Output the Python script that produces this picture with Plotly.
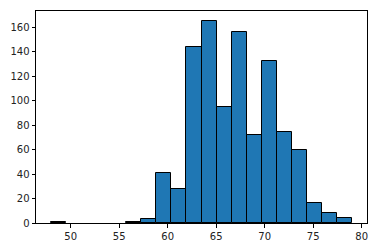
import plotly.graph_objects as go

bin_start = 47.97
bin_width = 1.5515
counts = [1, 0, 0, 0, 0, 1, 3, 41, 28, 144, 165, 95, 156, 72, 132, 74, 60, 16, 8, 4]
x_ticks = [50, 55, 60, 65, 70, 75, 80]
y_ticks = [0, 20, 40, 60, 80, 100, 120, 140, 160]

centers = [bin_start + bin_width * (i + 0.5) for i in range(len(counts))]
data_min = bin_start
data_max = bin_start + bin_width * len(counts)
pad = (data_max - data_min) * 0.05
line_widths = [1 if c > 0 else 0 for c in counts]

fig = go.Figure(go.Bar(
    x=centers, y=counts, width=[bin_width] * len(counts),
    marker=dict(color="#1f77b4", line=dict(color="black", width=line_widths)),
))

axis_common = dict(
    showline=True, linecolor="black", linewidth=1, mirror=True,
    ticks="outside", ticklen=3.5, tickwidth=1, tickcolor="black",
    showgrid=False, zeroline=False,
    tickfont=dict(family="DejaVu Sans", size=10, color="#222222"),
)

fig.update_layout(
    width=378, height=252,
    margin=dict(l=33, r=10, t=10, b=24),
    plot_bgcolor="white", paper_bgcolor="white",
    showlegend=False, bargap=0,
    xaxis=dict(range=[data_min - pad, data_max + pad], tickvals=x_ticks, **axis_common),
    yaxis=dict(range=[0, max(counts) * 1.05], tickvals=y_ticks, **axis_common),
)

fig.write_html("out.html")
